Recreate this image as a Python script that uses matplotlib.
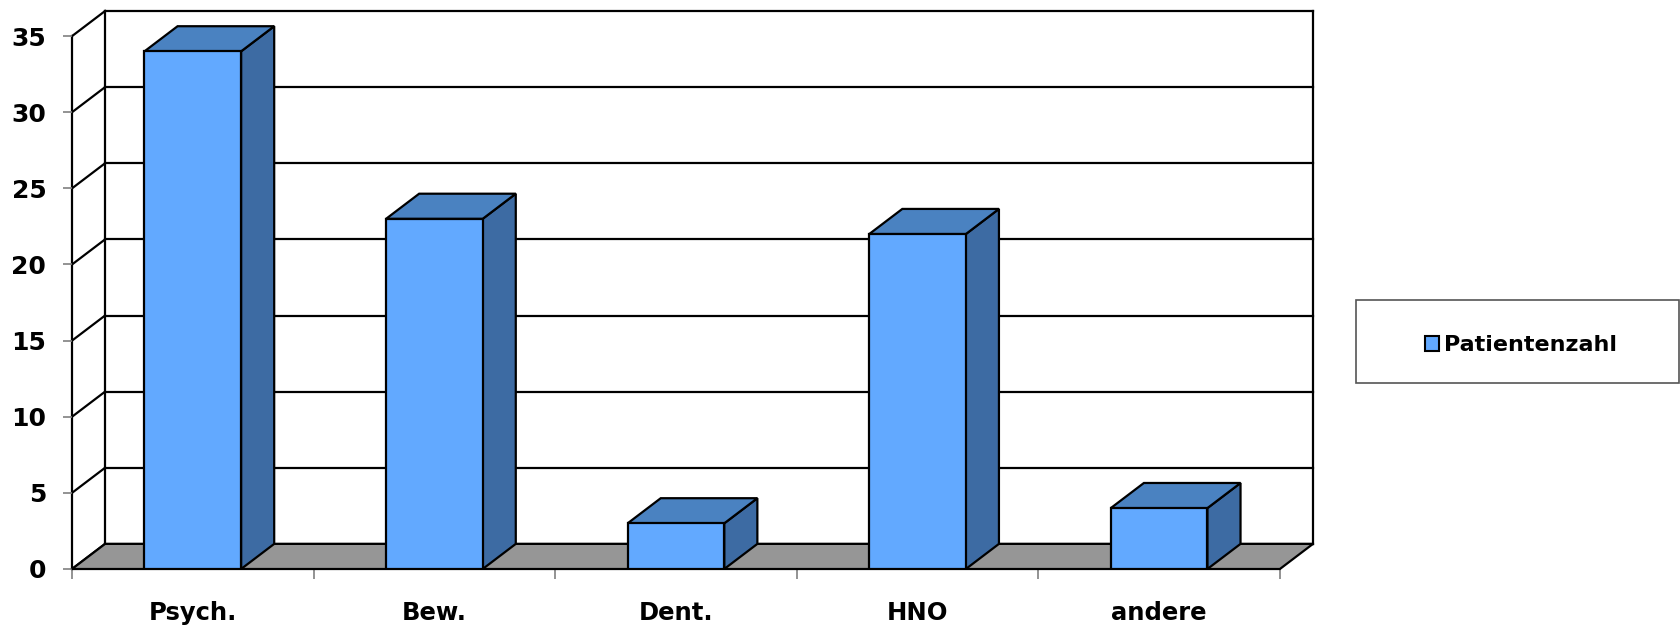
import matplotlib.pyplot as plt
from matplotlib.patches import Polygon, Rectangle, Patch

# data
categories = ['Psych.', 'Bew.', 'Dent.', 'HNO', 'andere']
patientenzahl = [34, 23, 3, 22, 4]
series_name = 'Patientenzahl'
y_ticks = [0, 5, 10, 15, 20, 25, 30, 35]

# Excel-like 3D look
FRONT = '#62A9FF'
TOP = '#4A82C1'
SIDE = '#3D6BA3'
FLOOR = '#969696'
DX = 0.137   # depth offset in category units
DY = 1.65    # depth offset in value units
BAR_W = 0.4
LW = 1.6

n = len(categories)
ymax = y_ticks[-1]

fig = plt.figure(figsize=(16.8, 6.29), dpi=100)
ax = fig.add_axes([72 / 1680, 60 / 629, (1313 - 72) / 1680, (618 - 60) / 629])
ax.set_xlim(-0.5, n - 0.5 + DX)
ax.set_ylim(0, ymax + DY)
for s in ax.spines.values():
    s.set_visible(False)

left, right = -0.5, n - 0.5

# back wall: gridlines + frame
for v in y_ticks:
    ax.plot([left + DX, right + DX], [v + DY, v + DY], color='black', lw=LW,
            zorder=1, clip_on=False, solid_capstyle='projecting')
    ax.plot([left, left + DX], [v, v + DY], color='black', lw=LW, zorder=1, clip_on=False)
ax.plot([left + DX, left + DX], [DY, ymax + DY], color='black', lw=LW, zorder=1, clip_on=False)
ax.plot([right + DX, right + DX], [DY, ymax + DY], color='black', lw=LW, zorder=1,
        clip_on=False, solid_capstyle='projecting')
ax.plot([left, left], [0, ymax], color='black', lw=LW, zorder=1, clip_on=False)

# floor
ax.add_patch(Polygon([(left, 0), (right, 0), (right + DX, DY), (left + DX, DY)],
                     closed=True, facecolor=FLOOR, edgecolor='black', lw=LW,
                     zorder=2, clip_on=False))

# bars
for i, v in enumerate(patientenzahl):
    x0, x1 = i - BAR_W / 2, i + BAR_W / 2
    ax.add_patch(Polygon([(x1, 0), (x1 + DX, DY), (x1 + DX, v + DY), (x1, v)],
                         facecolor=SIDE, edgecolor='black', lw=LW, zorder=3, joinstyle='miter'))
    ax.add_patch(Polygon([(x0, v), (x1, v), (x1 + DX, v + DY), (x0 + DX, v + DY)],
                         facecolor=TOP, edgecolor='black', lw=LW, zorder=3, joinstyle='miter'))
    ax.add_patch(Rectangle((x0, 0), BAR_W, v, facecolor=FRONT, edgecolor='black',
                           lw=LW, zorder=4, joinstyle='miter'))

# axes ticks and labels
ax.set_yticks(y_ticks)
ax.set_yticklabels([str(t) for t in y_ticks], fontsize=18, fontweight='bold')
ax.tick_params(axis='y', length=6.5, width=1.2, color='#808080', pad=12)

ax.set_xticks(range(n))
ax.set_xticklabels(categories, fontsize=17.5, fontweight='bold')
ax.set_xticks([k - 0.5 for k in range(n + 1)], minor=True)
ax.tick_params(axis='x', which='major', length=0, pad=23)
ax.tick_params(axis='x', which='minor', length=7, width=1.2, color='#808080')

# legend box
bx0, by0, bw, bh = 1356, 383, 323, 83
fig.add_artist(Rectangle((bx0 / 1680, (629 - by0) / 629), bw / 1680, bh / 629,
                         transform=fig.transFigure, fill=False,
                         edgecolor='#555555', lw=1.2))
fig.legend(handles=[Patch(facecolor=FRONT, edgecolor='black', lw=1.5, label=series_name)],
           loc='center', bbox_to_anchor=(1521 / 1680, (629 - 345) / 629),
           frameon=False, prop={'weight': 'bold', 'size': 16},
           handlelength=0.65, handleheight=0.65, handletextpad=0.25)

fig.savefig('out.png', dpi=100)
